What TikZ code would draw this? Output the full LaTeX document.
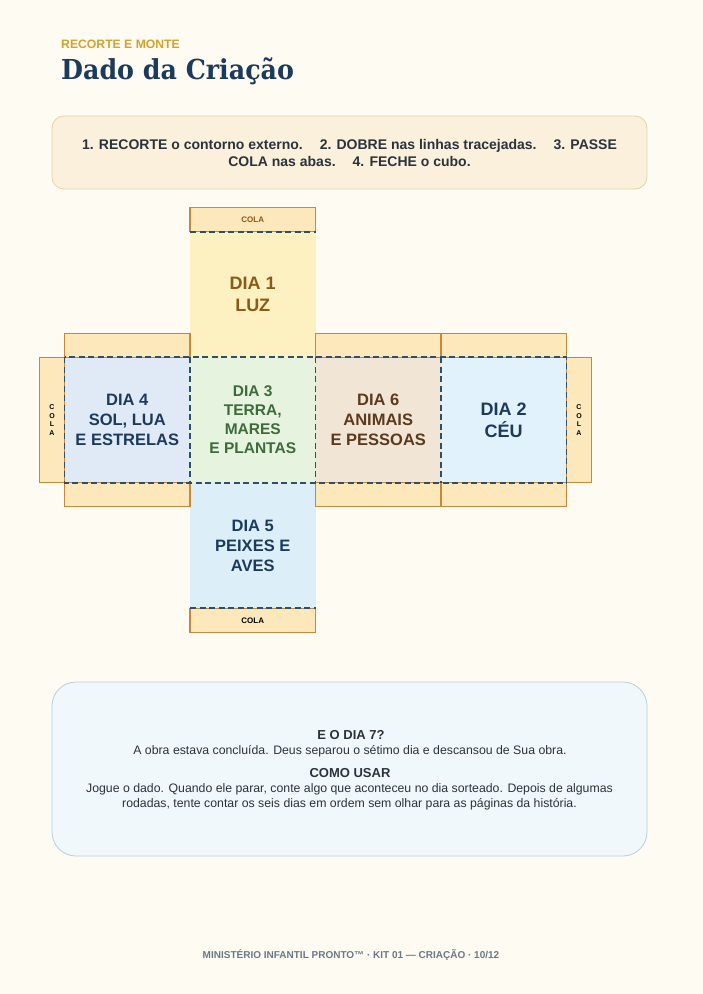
\documentclass[tikz,border=0pt]{standalone}
\usepackage{fontspec}
\setmainfont{Liberation Sans}
\newfontfamily\titlefont[FakeStretch=0.92]{DejaVu Serif}
\usepackage{tikz}
\usetikzlibrary{matrix, positioning, backgrounds}
\usepackage{xcolor}

\definecolor{paper}{HTML}{FEFBF3}
\definecolor{navy}{HTML}{1B3A5C}
\definecolor{gold}{HTML}{D4A22C}
\definecolor{tabfill}{HTML}{FCE8BA}
\definecolor{tabline}{HTML}{C8873A}
\definecolor{foldline}{HTML}{2E4E6E}
\definecolor{luzfill}{HTML}{FDF1C2}
\definecolor{luztext}{HTML}{8A5A16}
\definecolor{solfill}{HTML}{E0EAF7}
\definecolor{terrafill}{HTML}{E5F3DF}
\definecolor{terratext}{HTML}{3D6B3A}
\definecolor{animfill}{HTML}{F1E5D5}
\definecolor{animtext}{HTML}{5B3A1E}
\definecolor{ceufill}{HTML}{E1F2FC}
\definecolor{peixfill}{HTML}{DCEFF9}
\definecolor{notefill}{HTML}{FAF0DB}
\definecolor{noteline}{HTML}{E6D3A6}
\definecolor{infofill}{HTML}{F1F8FB}
\definecolor{infoline}{HTML}{B7CEDA}
\definecolor{ink}{HTML}{2A333D}
\definecolor{footgray}{HTML}{6B7886}

\tikzset{
  face/.style={minimum width=125.5pt, minimum height=125.5pt, inner sep=0pt, outer sep=0pt, align=center},
  luz/.style={face, fill=luzfill, text=luztext, font=\bfseries\fontsize{18}{22}\selectfont},
  sol/.style={face, fill=solfill, text=navy, font=\bfseries\fontsize{16.5}{20}\selectfont},
  terra/.style={face, fill=terrafill, text=terratext, font=\bfseries\fontsize{15.5}{19}\selectfont},
  animais/.style={face, fill=animfill, text=animtext, font=\bfseries\fontsize{16.5}{20}\selectfont},
  ceu/.style={face, fill=ceufill, text=navy, font=\bfseries\fontsize{18}{22}\selectfont},
  peixes/.style={face, fill=peixfill, text=navy, font=\bfseries\fontsize{16.5}{20}\selectfont},
  flap/.style={draw=tabline, fill=tabfill, line width=1.1pt, minimum width=125.5pt, minimum height=24pt, inner sep=0pt, outer sep=0pt, font=\bfseries\fontsize{8}{9}\selectfont},
  sideflap/.style={flap, minimum width=25pt, minimum height=125.5pt, align=center, font=\bfseries\fontsize{7}{8.7}\selectfont},
  fold/.style={draw=foldline, line width=1.8pt, dash pattern=on 6pt off 3.5pt},
  panel/.style={minimum width=595pt, inner sep=0pt},
}

\begin{document}
\begin{tikzpicture}[x=1pt, y=-1pt]
\fill[paper] (0,0) rectangle (703,994);
\useasboundingbox (0,0) rectangle (703,994);

% header
\node[anchor=base west, inner sep=0pt, text=gold, font=\bfseries\fontsize{12.2}{13}\selectfont] (kicker) at (61,48) {RECORTE E MONTE};
\node[anchor=base west, inner sep=0pt, text=navy, font=\titlefont\bfseries\fontsize{27.5}{30}\selectfont] (title) at (61,79) {Dado da Criação};

% steps
\node[panel, minimum height=73pt, draw=noteline, fill=notefill, rounded corners=12pt, line width=0.8pt,
      align=center, text=ink, font=\bfseries\fontsize{14}{17}\selectfont] (steps) at (349.5,152.5)
  {1. RECORTE o contorno externo.\hspace{17pt}2. DOBRE nas linhas tracejadas.\hspace{17pt}3. PASSE\\
   COLA nas abas.\hspace{17pt}4. FECHE o cubo.};

% cube net
\matrix (net) [column sep=0pt, row sep=0pt, inner sep=0pt, outer sep=0pt] at (315.5,420)
{
  & \node[luz] (d1) {DIA 1\\LUZ}; & & \\
  \node[sol] (d4) {DIA 4\\SOL, LUA\\E ESTRELAS}; & \node[terra] (d3) {DIA 3\\TERRA,\\MARES\\E PLANTAS}; &
  \node[animais] (d6) {DIA 6\\ANIMAIS\\E PESSOAS}; & \node[ceu] (d2) {DIA 2\\CÉU}; \\
  & \node[peixes] (d5) {DIA 5\\PEIXES E\\AVES}; & & \\
};

\node[flap, above=0pt of d1, text=luztext] (colaTop) {COLA};
\node[flap, below=0pt of d5, text=black] (colaBottom) {COLA};
\node[sideflap, left=0pt of d4] (colaLeft) {C\\O\\L\\A};
\node[sideflap, right=0pt of d2] (colaRight) {C\\O\\L\\A};
\node[flap, above=0pt of d4] (aba4t) {};
\node[flap, above=0pt of d6] (aba6t) {};
\node[flap, above=0pt of d2] (aba2t) {};
\node[flap, below=0pt of d4] (aba4b) {};
\node[flap, below=0pt of d6] (aba6b) {};
\node[flap, below=0pt of d2] (aba2b) {};

\draw[fold] (d4.north west) rectangle (d2.south east);
\draw[fold] (d3.north west) -- (d3.south west);
\draw[fold] (d6.north west) -- (d6.south west);
\draw[fold] (d2.north west) -- (d2.south west);
\draw[fold] (d1.north west) -- (d1.north east);
\draw[fold] (d5.south west) -- (d5.south east);

% info
\node[panel, minimum height=174pt, draw=infoline, fill=infofill, rounded corners=24pt, line width=0.8pt] (info) at (349.5,769) {};
\node[text=ink, font=\bfseries\fontsize{13}{15}\selectfont] (dia7) at (351,735) {E O DIA 7?};
\node[text=ink, font=\fontsize{12.3}{15}\selectfont] (dia7txt) at (350,751) {A obra estava concluída. Deus separou o sétimo dia e descansou de Sua obra.};
\node[text=ink, font=\bfseries\fontsize{13}{15}\selectfont] (uso) at (350,773) {COMO USAR};
\node[text=ink, align=center, font=\fontsize{12.3}{15}\selectfont] (usotxt) at (349.5,796.5)
  {Jogue o dado. Quando ele parar, conte algo que aconteceu no dia sorteado. Depois de algumas\\
   rodadas, tente contar os seis dias em ordem sem olhar para as páginas da história.};

% footer
\node[text=footgray, font=\bfseries\fontsize{10}{11}\selectfont] (footer) at (351,955) {MINISTÉRIO INFANTIL PRONTO™ · KIT 01 — CRIAÇÃO · 10/12};
\end{tikzpicture}
\end{document}
